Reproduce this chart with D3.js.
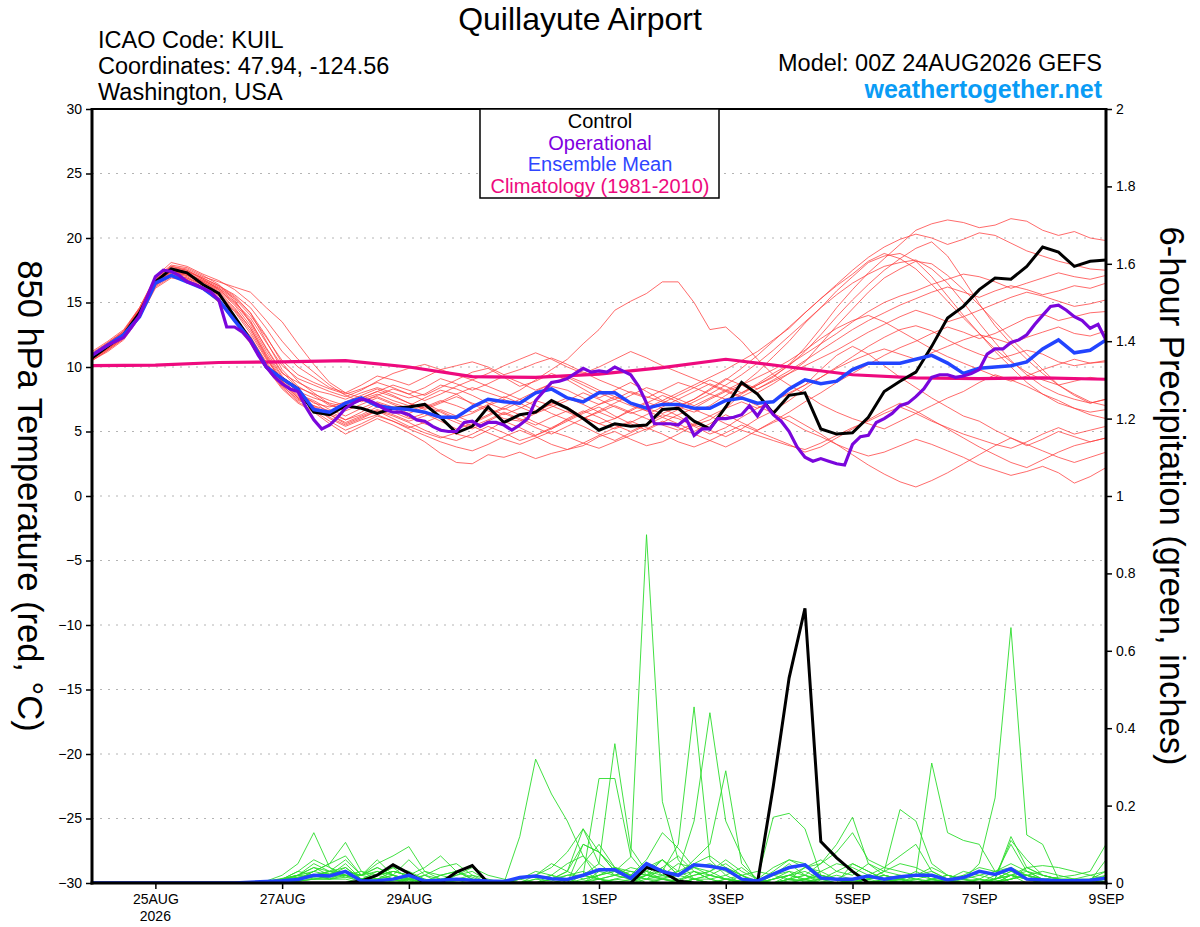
<!DOCTYPE html>
<html>
<head>
<meta charset="utf-8">
<script src="https://cdn.jsdelivr.net/npm/d3@7"></script>
<style>
  body { margin: 0; background: #fff; }
  svg { display: block; font-family: "Liberation Sans", Arial, Helvetica, sans-serif; }
</style>
</head>
<body>
<svg id="chart" width="1200" height="927"></svg>
<script>
// ---- data (6-hourly from 00Z 24AUG2026 unless noted) ----
const xTickDates = ["2026-08-25", "2026-08-27", "2026-08-29", "2026-09-01",
                    "2026-09-03", "2026-09-05", "2026-09-07", "2026-09-09"];
const months = ["JAN","FEB","MAR","APR","MAY","JUN","JUL","AUG","SEP","OCT","NOV","DEC"];

const controlTemp = [10.7,11.6,12.5,14.2,16.6,17.6,17.3,16.4,15.7,13.9,12.1,10.0,9.1,8.3,6.5,6.3,7.0,6.8,6.4,6.8,6.9,7.1,6.1,4.9,
  5.4,6.9,5.7,6.3,6.5,7.4,6.8,6.0,5.1,5.6,5.4,5.5,6.7,6.8,5.8,5.2,6.9,8.8,7.9,6.4,
  7.8,8.0,5.2,4.8,4.9,6.1,8.1,8.9,9.6,11.6,13.8,14.7,16.0,16.9,16.8,17.8,19.3,18.9,17.8,18.2,18.3];

const meanTemp = [10.9,11.7,12.5,13.9,16.5,17.1,16.6,16.1,15.2,13.6,12.1,10.0,9.1,8.3,6.7,6.5,7.2,7.6,7.0,6.8,6.7,6.5,6.1,6.1,
  6.9,7.5,7.3,7.2,8.0,8.3,7.6,7.3,8.0,8.0,7.2,6.8,7.1,7.1,6.8,6.8,7.4,7.6,7.2,7.3,
  8.3,9.0,8.7,8.9,9.8,10.3,10.3,10.3,10.6,10.9,10.3,9.5,9.9,10.0,10.1,10.4,11.4,12.1,11.1,11.3,12.1];

// operational run is 3-hourly
const operTemp = [10.9,11.3,11.7,12.0,12.3,13.1,14.0,15.5,17.0,17.5,
  17.4,17.1,16.6,16.4,16.1,15.8,15.2,13.1,13.1,12.7,
  12.0,10.9,10.0,9.25,8.7,8.3,8.1,6.9,5.9,5.2,
  5.5,6.1,6.8,7.2,7.5,7.4,7.1,6.7,6.5,6.5,
  6.3,5.9,5.8,5.4,5.1,5.0,5.0,5.7,5.8,5.4,
  5.7,5.7,5.5,5.1,5.5,6.0,7.4,8.1,8.8,8.9,
  9.1,9.5,9.9,9.6,9.7,9.6,10.0,9.7,9.4,8.5,
  7.2,5.6,5.6,5.6,5.5,6.0,4.7,5.2,5.2,6.0,
  6.0,6.1,6.3,7.0,6.2,7.1,6.3,5.8,5.0,3.8,
  3.0,2.7,2.9,2.7,2.5,2.4,4.0,4.6,4.7,5.7,
  6.0,6.4,7.0,7.2,7.7,8.3,9.2,9.4,9.4,9.2,
  9.3,9.5,9.8,11.0,11.4,11.4,11.9,12.1,12.5,13.3,
  14.0,14.7,14.8,14.4,13.9,13.6,13.0,13.3,12.1];

// climatology is daily
const climTemp = [10.1,10.15,10.35,10.4,10.5,10.0,9.25,9.2,9.45,9.95,10.6,10.0,9.4,9.15,9.1,9.15,9.05];

const memberTemps = [
  [10.9,11.7,12.6,14.3,16.6,17.6,17.4,16.8,16.2,15.4,14.2,12.0,9.8,8.5,7.8,7.0,6.8,7.5,7.9,7.4,7.0,7.6,8.2,7.9,
   7.1,6.6,6.0,5.8,6.4,7.2,6.9,6.1,5.6,6.0,6.7,7.3,6.8,6.2,5.5,5.9,6.8,7.9,8.6,9.2,
   10.2,11.5,13.0,14.6,16.0,17.3,18.4,19.5,20.6,21.1,21.4,21.2,20.8,21.0,21.5,21.3,20.6,20.2,20.5,20.0,19.8],
  [10.6,11.4,12.3,14.0,16.3,17.2,16.9,16.2,15.3,13.8,12.4,10.3,8.6,7.4,7.0,6.6,5.9,6.5,7.2,6.8,6.1,5.6,5.2,4.8,
   4.5,5.1,5.8,5.3,4.7,5.2,6.0,6.6,6.1,5.5,5.0,5.6,6.3,6.0,5.4,4.8,5.3,6.1,6.8,7.4,
   7.9,8.6,9.8,10.9,11.6,11.0,10.1,9.2,8.4,7.6,6.9,6.2,5.8,5.1,4.5,3.9,4.4,5.0,4.6,4.2,4.5],
  [11.0,11.8,12.8,14.5,16.8,17.8,17.6,17.0,16.6,16.2,15.8,14.6,13.5,11.8,10.2,8.8,8.0,7.6,8.1,8.6,8.2,7.8,8.4,9.0,
   9.6,9.9,9.2,8.5,8.9,9.5,9.0,8.3,7.6,8.2,8.8,8.1,7.4,7.0,7.5,8.3,9.1,8.6,8.0,8.7,
   9.5,10.4,11.8,13.2,14.5,15.8,16.9,17.6,18.2,18.0,17.1,16.0,14.8,13.5,12.2,11.0,9.8,8.6,7.8,7.2,7.5],
  [10.7,11.5,12.4,14.1,16.5,17.4,17.2,16.6,15.9,14.8,13.2,11.0,9.2,8.0,7.2,6.9,7.3,7.8,8.3,7.8,7.2,6.8,7.3,7.9,
   8.4,8.0,7.6,8.2,9.0,9.8,10.6,11.8,12.9,14.4,15.1,15.7,16.6,16.6,15.0,12.9,13.1,12.0,10.6,9.4,
   8.6,7.9,7.1,6.5,6.0,5.6,5.2,5.8,6.4,7.0,7.6,8.1,8.8,9.4,9.0,8.5,7.9,7.4,6.8,6.3,6.0],
  [10.5,11.3,12.2,13.9,16.2,17.0,16.8,16.1,15.0,13.5,11.8,9.9,8.3,7.2,6.5,5.6,4.8,5.4,6.0,5.5,4.9,4.2,3.3,2.6,
   2.5,3.2,3.0,3.4,2.9,3.3,3.6,3.9,4.6,5.0,4.4,3.9,4.2,4.8,5.5,5.1,4.6,5.2,6.0,6.6,
   7.4,8.3,9.2,10.0,10.8,11.6,12.3,12.9,13.2,12.8,12.1,11.5,11.0,10.6,10.9,11.3,11.0,10.4,10.1,10.3,10.5],
  [11.1,11.9,12.7,14.4,16.7,17.5,17.3,16.7,16.1,15.1,13.6,11.4,9.5,8.8,8.2,7.9,7.5,8.0,8.4,8.0,7.6,7.9,8.6,8.3,
   7.8,7.2,6.7,7.3,7.9,8.5,8.2,7.6,7.1,7.5,8.1,7.7,7.3,6.9,6.5,7.0,7.8,8.6,9.6,10.8,
   12.0,13.4,14.6,15.9,17.0,18.1,18.6,18.8,18.2,17.0,15.5,14.0,12.6,11.2,10.0,8.8,7.9,7.2,6.8,6.5,6.7],
  [10.6,11.5,12.4,14.2,16.5,17.3,17.0,16.3,15.5,14.3,12.6,10.6,8.9,7.8,7.3,6.4,5.9,6.3,6.9,6.5,6.0,6.4,5.8,5.2,
   5.6,6.2,6.8,6.3,5.7,5.2,5.8,6.4,6.9,6.2,5.6,5.1,5.7,6.3,6.8,7.5,8.1,7.6,7.0,6.4,
   5.8,5.1,4.6,4.0,3.5,3.1,3.4,3.9,4.4,4.0,3.5,3.0,2.4,2.0,1.6,1.9,2.3,1.8,1.0,1.5,2.2],
  [10.8,11.6,12.5,14.3,16.7,17.7,17.5,16.9,16.3,15.6,14.6,13.0,11.2,10.0,9.2,8.4,8.0,8.6,9.3,9.0,8.6,9.2,9.8,10.1,
   10.4,10.0,9.4,9.8,10.3,10.7,10.2,9.6,9.0,8.5,8.0,7.6,8.2,8.8,8.4,7.9,7.5,8.0,8.7,9.5,
   10.2,11.0,11.8,12.6,13.5,14.3,15.0,15.5,15.9,16.4,16.8,17.2,17.0,16.6,16.1,16.5,16.9,17.3,17.0,16.8,17.1],
  [10.7,11.4,12.3,14.0,16.4,17.1,16.9,16.4,15.7,14.5,13.0,10.8,8.8,7.6,6.8,6.1,5.5,6.0,6.6,6.2,5.7,5.1,4.6,4.3,
   4.8,5.4,4.9,4.3,4.7,5.3,5.9,5.4,4.8,4.3,4.9,5.5,6.1,5.6,5.0,5.6,6.3,5.7,5.1,5.8,
   6.5,7.3,8.0,8.8,9.5,10.2,10.9,11.5,12.0,12.6,13.1,12.7,12.2,12.6,13.2,13.8,14.1,13.6,13.9,14.2,14.3],
  [10.9,11.8,12.7,14.5,16.9,17.9,17.7,17.1,16.4,15.2,13.4,11.2,9.3,8.1,7.6,7.2,6.9,7.4,7.7,7.2,6.8,7.2,6.6,6.0,
   6.4,7.0,7.5,6.9,6.4,6.9,7.4,8.0,7.5,6.9,6.4,6.8,7.4,8.0,8.6,9.2,9.8,10.5,11.2,12.1,
   13.0,14.2,15.3,16.3,17.2,18.2,18.8,18.4,17.6,16.4,15.1,13.8,12.6,11.4,10.4,9.6,9.0,8.6,8.9,9.2,9.0],
  [10.6,11.5,12.4,14.2,16.6,17.5,17.2,16.5,15.6,14.0,12.2,10.1,8.5,7.5,6.9,6.0,5.4,5.9,6.3,5.8,5.3,5.7,6.2,5.7,
   5.2,5.8,6.4,5.9,5.3,4.8,5.4,6.0,6.5,7.0,6.5,6.0,5.5,5.1,5.6,6.2,6.8,7.3,6.8,7.4,
   8.0,8.6,9.2,9.9,10.5,11.0,11.4,11.0,10.6,11.1,11.6,12.1,12.5,12.2,11.8,12.3,12.7,13.1,12.6,12.4,12.8],
  [11.0,11.7,12.6,14.4,16.8,17.6,17.3,16.6,15.8,14.6,13.0,10.9,9.0,7.9,7.4,6.7,6.2,6.8,7.3,6.9,6.4,6.9,7.4,7.0,
   6.5,7.1,7.7,7.2,6.6,7.1,7.6,7.1,6.5,6.0,6.6,7.2,7.8,7.3,6.7,6.2,5.6,5.1,4.7,4.3,
   3.9,3.6,4.1,4.7,5.3,5.8,6.4,6.9,6.4,5.8,5.3,4.8,4.4,4.0,3.7,4.2,4.8,5.3,4.8,5.1,5.4],
  [10.8,11.6,12.5,14.2,16.5,17.4,17.2,16.7,16.1,15.3,14.0,12.3,10.5,9.4,8.8,8.3,7.9,8.3,8.8,8.4,7.9,8.4,9.1,8.7,
   8.2,8.7,9.3,8.8,8.2,8.7,9.2,8.6,8.0,7.5,7.0,6.6,7.2,7.8,8.4,9.0,8.5,8.0,8.6,9.3,
   10.1,11.2,12.5,13.9,15.2,16.4,17.5,18.4,19.2,19.7,18.6,16.8,14.9,13.2,11.8,10.6,9.5,8.6,7.9,7.3,7.0],
  [10.5,11.3,12.2,14.0,16.3,17.1,16.8,16.0,15.1,13.6,11.9,10.0,8.4,7.3,6.6,5.8,5.1,5.6,6.2,5.8,5.2,4.7,4.2,3.8,
   3.5,4.0,4.6,5.1,4.6,4.0,3.6,4.1,4.7,5.3,5.8,5.3,4.8,4.2,3.8,4.3,4.9,5.5,5.0,4.5,
   4.0,3.4,3.8,4.5,5.2,5.9,6.6,7.2,6.6,5.9,5.2,4.5,3.8,3.2,2.6,2.2,2.8,3.4,3.9,4.2,4.5],
  [11.0,11.9,12.8,14.6,16.9,17.8,17.5,16.8,16.0,14.9,13.5,11.5,9.6,8.4,7.9,7.4,7.0,7.6,8.1,7.7,7.2,6.7,7.2,7.7,
   7.2,6.8,6.3,6.8,7.4,7.0,6.5,6.0,6.6,7.2,7.8,8.4,8.0,7.5,7.0,7.6,8.2,8.8,8.3,8.9,
   9.5,10.1,10.7,11.3,12.0,12.7,13.3,13.9,14.4,14.0,13.5,13.9,14.4,14.9,15.4,15.8,15.5,15.1,14.7,14.9,15.2],
  [10.7,11.6,12.5,14.2,16.6,17.4,17.1,16.4,15.6,14.4,12.8,10.7,8.9,7.7,7.0,6.3,5.7,6.2,6.7,6.3,5.8,6.2,6.7,6.2,
   5.7,6.3,6.9,7.5,7.0,6.4,5.9,6.5,7.1,7.7,7.2,6.6,6.1,6.7,7.3,7.9,8.6,9.4,10.3,11.3,
   12.4,13.5,14.6,15.6,16.5,17.2,17.8,18.1,18.3,17.6,16.5,15.0,13.4,11.9,10.5,9.4,8.5,7.9,7.5,7.2,7.5],
  [10.9,11.7,12.6,14.3,16.7,17.6,17.4,16.9,16.3,15.5,14.2,12.4,10.3,8.9,8.0,7.1,6.6,7.1,7.6,7.1,6.6,7.0,6.5,5.9,
   5.4,5.9,6.5,6.0,5.5,6.1,6.6,6.1,5.6,5.2,5.7,6.3,6.9,7.5,8.1,8.7,8.2,7.7,8.3,9.0,
   9.7,10.5,11.3,12.1,12.9,13.6,14.2,14.8,15.3,15.8,16.2,15.8,15.4,15.9,16.3,16.0,15.6,15.9,16.3,16.1,16.5],
  [11.2,12.0,12.9,14.6,17.0,18.1,17.8,17.2,16.7,16.0,15.0,13.6,12.0,10.6,9.6,8.6,7.8,7.3,7.8,8.3,7.9,7.4,7.9,8.5,
   9.0,8.5,8.0,7.5,8.1,8.7,9.3,8.8,8.2,7.7,7.2,6.8,6.4,6.9,7.5,8.2,9.0,9.9,10.9,12.0,
   13.1,14.2,15.3,16.4,17.5,18.5,19.3,19.9,20.3,20.0,19.5,19.9,20.4,20.2,19.6,19.0,18.6,18.2,17.9,17.6,17.5],
  [10.6,11.4,12.3,14.1,16.4,17.3,17.1,16.6,16.0,15.0,13.8,11.9,10.1,9.1,8.6,8.1,7.7,8.2,8.9,9.5,9.9,10.2,9.8,9.4,
   9.0,9.5,10.1,10.6,11.1,10.6,10.0,9.5,10.0,10.6,11.2,10.7,10.1,9.6,9.1,8.6,8.1,8.6,9.2,9.8,
   10.5,11.3,12.2,13.0,13.6,14.0,13.5,12.8,12.1,11.4,10.8,10.3,9.8,9.3,8.9,9.3,9.8,10.2,10.6,10.3,10.4],
  [10.5,11.2,12.1,13.8,16.1,16.9,16.7,16.0,15.2,13.9,12.3,10.4,8.7,7.6,6.9,6.3,5.6,6.1,6.6,6.0,5.4,4.9,4.5,4.9,
   5.4,4.9,4.4,4.0,4.5,5.0,4.6,4.1,3.7,4.2,4.7,5.2,5.8,5.3,4.8,4.3,3.8,4.4,5.1,5.7,
   6.2,5.5,4.8,4.0,3.2,2.4,1.7,1.1,0.7,1.2,1.8,2.5,3.2,3.9,4.5,4.0,3.5,3.0,2.6,3.0,3.4]
];

const controlPrecip = [0,0,0,0,0,0,0,0,0,0,0,0,0,
  0,0,0,0,0.005,0.02,0.047,0.025,0,0,0.028,0.045,0,
  0,0,0,0,0,0,0,0,0,0.04,0.03,0.005,0,
  0,0,0,0,0.25,0.53,0.71,0.107,0.065,0.03,0,0,0,
  0,0,0,0,0,0,0,0,0,0,0,0,0];

const meanPrecip = [0,0,0,0,0,0,0,0,0,0,0.002,0.004,0.006,
  0.009,0.02,0.018,0.03,0.005,0.006,0.01,0.02,0.005,0.007,0.01,0.007,0.005,
  0.004,0.014,0.018,0.011,0.009,0.02,0.034,0.034,0.012,0.05,0.03,0.02,0.047,
  0.043,0.036,0.01,0.005,0.023,0.04,0.047,0.013,0.01,0.01,0.018,0.01,0.016,
  0.02,0.02,0.008,0.014,0.03,0.022,0.037,0.01,0.008,0.006,0.006,0.007,0.012];

const memberPrecips = [
  [0,0,0,0,0,0,0,0,0,0,0,0.005,0.02,
   0.05,0.13,0.04,0.02,0,0.01,0.03,0.02,0.005,0,0,0,0,
   0,0.12,0.32,0.23,0.16,0.07,0.01,0,0,0.02,0.04,0,0.01,
   0,0,0,0,0.01,0.03,0,0,0,0,0,0.01,0,
   0.02,0.31,0.13,0.11,0.1,0.03,0,0,0,0,0,0,0],
  [0,0,0,0,0,0,0,0,0,0,0,0.003,0.01,
   0.02,0.03,0.05,0.105,0.03,0.01,0.02,0,0,0,0.005,0.01,0,
   0,0,0.01,0.02,0,0,0.02,0.03,0.067,0.9,0.21,0.06,0.01,
   0,0,0,0,0,0.01,0.02,0,0,0,0,0,0,
   0,0,0,0,0,0.01,0.02,0,0,0,0,0,0],
  [0,0,0,0,0,0,0,0,0,0,0,0,0.005,
   0.01,0.02,0.03,0.04,0.01,0,0.005,0.01,0,0,0,0,0,
   0,0,0,0.01,0.02,0.03,0.01,0,0,0,0.01,0.02,0.03,
   0.01,0,0,0,0,0,0,0,0,0.01,0.02,0.04,0.03,
   0.02,0.04,0.02,0.01,0.05,0.22,0.66,0.124,0.1,0.01,0.01,0.005,0.01],
  [0,0,0,0,0,0,0,0,0,0,0,0.002,0.01,
   0.02,0.04,0.03,0.03,0.02,0.05,0.07,0.094,0.03,0.01,0.02,0.03,0.005,
   0,0,0.01,0.005,0.02,0.02,0.27,0.27,0.07,0.02,0.01,0.005,0.03,
   0.02,0.01,0,0,0.01,0.02,0.03,0.01,0,0,0,0.005,0.01,
   0.03,0.01,0,0,0,0,0.01,0.02,0,0,0,0,0],
  [0,0,0,0,0,0,0,0,0,0,0,0,0.01,
   0.02,0.05,0.03,0.06,0.02,0.03,0.01,0,0,0,0,0,0,
   0,0.01,0,0,0.01,0.02,0.05,0.36,0.09,0.03,0.06,0.02,0.01,
   0,0.01,0.02,0,0,0,0,0.01,0.03,0.05,0.03,0.01,0,
   0,0.01,0.02,0.01,0,0,0,0,0,0,0,0,0],
  [0,0,0,0,0,0,0,0,0,0,0,0.002,0.005,
   0.01,0.02,0.02,0.04,0.01,0.02,0.04,0.03,0.01,0,0,0.01,0,
   0,0,0,0.01,0.03,0.14,0.05,0.02,0.01,0.02,0.03,0.1,0.455,
   0.06,0.02,0,0,0.02,0.05,0.02,0.01,0,0.005,0.01,0.03,0.02,
   0.01,0,0,0.01,0.02,0.03,0.04,0.02,0.01,0.005,0,0.01,0.03],
  [0,0,0,0,0,0,0,0,0,0,0,0,0.005,
   0.01,0.03,0.05,0.07,0.02,0.06,0.02,0.01,0,0,0,0,0,
   0,0,0,0,0,0.1,0.08,0.03,0.01,0.05,0.02,0.03,0.16,
   0.44,0.16,0.07,0,0.01,0.02,0.01,0,0,0.05,0.03,0.01,0.005,
   0,0,0,0.02,0.04,0.03,0.02,0.01,0,0,0,0,0],
  [0,0,0,0,0,0,0,0,0,0,0,0.003,0.008,
   0.015,0.02,0.01,0.03,0.02,0.04,0.02,0.06,0.02,0,0,0,0,
   0,0,0.02,0.05,0.03,0.01,0.02,0.04,0.03,0.02,0.06,0.02,0.06,
   0.1,0.29,0.05,0.01,0.17,0.18,0.14,0.02,0.01,0.03,0.01,0,0.01,
   0.02,0.01,0,0,0,0.01,0.12,0.04,0.02,0.01,0,0,0],
  [0,0,0,0,0,0,0,0,0,0,0,0,0.003,
   0.005,0.01,0.02,0.02,0.01,0.01,0.01,0.02,0.005,0,0,0,0,
   0,0,0,0,0,0,0,0.01,0.02,0.01,0,0,0.01,
   0.02,0.01,0,0,0,0.02,0.04,0.06,0.03,0.02,0.05,0.03,0.19,
   0.16,0.05,0.02,0.01,0,0.01,0.03,0.02,0.01,0.015,0.02,0.03,0.1],
  [0,0,0,0,0,0,0,0,0,0,0,0,0.005,
   0.02,0.04,0.02,0.03,0.01,0,0,0.01,0,0,0,0,0,
   0,0,0,0,0,0.05,0.1,0.04,0.02,0,0,0,0.01,
   0.01,0,0,0.01,0.04,0.06,0.04,0.05,0.1,0.17,0.05,0.02,0.01,
   0,0.005,0.01,0.03,0.02,0.01,0.02,0.01,0,0,0,0,0],
  [0,0,0,0,0,0,0,0,0,0,0,0.003,0.01,
   0.03,0.02,0.01,0.01,0,0.02,0.04,0.01,0,0,0.01,0.02,0.01,
   0,0,0,0,0,0,0.03,0.04,0.02,0.01,0.01,0,0,
   0,0,0.02,0.03,0.02,0.01,0.02,0.05,0.08,0.13,0.06,0.04,0.07,
   0.1,0.03,0.01,0,0,0.01,0.11,0.06,0.02,0.01,0.01,0.01,0.02],
  [0,0,0,0,0,0,0,0,0,0,0,0,0,
   0.005,0.01,0.015,0.02,0.01,0.005,0.01,0.015,0,0,0,0,0,
   0,0.01,0.02,0.04,0.08,0.14,0.08,0.03,0.02,0.06,0.13,0.09,0.04,
   0.02,0.01,0,0,0,0.01,0.005,0,0,0,0.01,0.02,0.01,
   0,0,0,0.005,0.01,0.005,0.01,0.04,0.045,0.04,0.03,0.02,0.01],
  [0,0,0,0,0,0,0,0,0,0,0,0.004,0.012,
   0.02,0.02,0.025,0.02,0.01,0.02,0.03,0.02,0.01,0,0.02,0.04,0.02,
   0.01,0,0,0.01,0.03,0.1,0.08,0.04,0.02,0.01,0.02,0.05,0.04,
   0.03,0.06,0.03,0.01,0,0,0.01,0.03,0.05,0.04,0.02,0.01,0,
   0,0,0.01,0.02,0.01,0,0.01,0.02,0.01,0.005,0,0,0.02],
  [0,0,0,0,0,0,0,0,0,0,0,0,0.004,
   0.01,0.015,0.02,0.03,0.02,0.01,0.02,0.01,0.03,0.02,0.01,0.005,0,
   0,0,0,0,0.01,0.02,0.01,0,0.01,0.03,0.02,0.01,0.02,
   0.03,0.01,0.005,0,0.02,0.03,0.02,0.005,0,0,0.01,0.02,0.01,
   0.005,0,0,0,0.01,0.03,0.05,0.03,0.02,0.01,0.005,0,0],
  [0,0,0,0,0,0,0,0,0,0,0,0.002,0.006,
   0.01,0.03,0.02,0.05,0.01,0.02,0.03,0.02,0.005,0.02,0.03,0.01,0,
   0,0,0,0,0,0.01,0.02,0.03,0.01,0,0.01,0.03,0.05,
   0.07,0.04,0.02,0.005,0.03,0.06,0.05,0.02,0.01,0,0.01,0.03,0.05,
   0.04,0.02,0.01,0,0,0.02,0.1,0.03,0.01,0,0,0,0],
  [0,0,0,0,0,0,0,0,0,0,0,0,0.008,
   0.02,0.01,0.01,0.02,0.03,0.02,0.01,0.005,0.02,0.04,0.05,0.02,0,
   0,0,0,0,0,0.02,0.01,0.005,0,0.01,0.04,0.07,0.03,
   0.01,0.02,0.04,0.01,0,0.01,0.04,0.03,0.01,0,0.01,0.02,0.01,
   0,0.01,0.02,0.01,0.005,0.01,0.02,0.01,0,0,0.01,0.02,0.03],
  [0,0,0,0,0,0,0,0,0,0,0,0.003,0.01,
   0.015,0.02,0.03,0.02,0.01,0.01,0.005,0.01,0.02,0.01,0,0,0,
   0,0,0,0.02,0.05,0.07,0.03,0.02,0.01,0.04,0.06,0.03,0.01,
   0,0.01,0.005,0,0.01,0.02,0.01,0,0,0.01,0.005,0,0,
   0,0.01,0.005,0,0,0.01,0.03,0.02,0.01,0.005,0,0,0.005],
  [0,0,0,0,0,0,0,0,0,0,0,0,0.002,
   0.005,0.01,0.01,0.015,0.005,0,0.01,0.02,0.04,0.07,0.03,0.01,0,
   0,0,0,0,0,0,0.01,0.02,0.03,0.02,0.01,0,0.01,
   0.02,0.04,0.02,0,0,0.01,0.005,0.01,0.02,0.01,0.005,0,0.005,
   0.01,0.02,0.01,0,0,0,0.02,0.04,0.02,0.01,0.005,0,0],
  [0,0,0,0,0,0,0,0,0,0,0,0.004,0.01,
   0.03,0.06,0.04,0.02,0.01,0.03,0.02,0.01,0,0,0,0,0,
   0,0.01,0.03,0.02,0.01,0,0,0.01,0.005,0.02,0.015,0.02,0.04,
   0.05,0.03,0.01,0,0,0.005,0.01,0.02,0.01,0.005,0,0.01,0.02,
   0.01,0.005,0,0,0,0,0.02,0.03,0.01,0,0,0,0.01],
  [0,0,0,0,0,0,0,0,0,0,0,0,0.006,
   0.012,0.02,0.03,0.015,0.02,0.04,0.02,0.005,0,0.02,0.03,0.015,0,
   0,0,0,0,0,0.005,0.01,0.02,0.04,0.03,0.01,0.005,0.02,
   0.03,0.05,0.02,0,0,0,0.01,0.02,0.01,0,0,0.005,0.01,
   0.02,0.03,0.01,0,0,0.005,0.01,0.02,0.03,0.02,0.01,0.005,0.06]
];

// ---- layout ----
const svg = d3.select("#chart");
const plot = { left: 92, right: 1106, top: 109, bottom: 883 };

const start = Date.UTC(2026, 7, 24, 0);
const hour = 3600 * 1000;
const at = (i, hrs) => new Date(start + i * hrs * hour);

const x = d3.scaleUtc()
  .domain([at(0, 6), at(64, 6)])
  .range([plot.left, plot.right]);
const yT = d3.scaleLinear().domain([-30, 30]).range([plot.bottom, plot.top]);
const yP = d3.scaleLinear().domain([0, 2]).range([plot.bottom, plot.top]);

svg.append("defs").append("clipPath").attr("id", "clip")
  .append("rect")
  .attr("x", plot.left).attr("y", plot.top - 2)
  .attr("width", plot.right - plot.left).attr("height", plot.bottom - plot.top + 2);

// dotted grid on the temperature ticks
svg.append("g")
  .selectAll("line")
  .data(d3.range(-25, 30, 5))
  .join("line")
  .attr("x1", plot.left).attr("x2", plot.right)
  .attr("y1", d => yT(d)).attr("y2", d => yT(d))
  .attr("stroke", "#b4b4b4")
  .attr("stroke-width", 1)
  .attr("stroke-dasharray", "2,6");

const lineOf = (hrs, yScale) => d3.line()
  .x((d, i) => x(at(i, hrs)))
  .y(d => yScale(d));

const g = svg.append("g").attr("clip-path", "url(#clip)");

// ensemble members
g.append("g").selectAll("path")
  .data(memberTemps)
  .join("path")
  .attr("d", lineOf(6, yT))
  .attr("fill", "none")
  .attr("stroke", "#ff3c3c")
  .attr("stroke-opacity", 0.85)
  .attr("stroke-width", 0.9);

g.append("g").selectAll("path")
  .data(memberPrecips)
  .join("path")
  .attr("d", lineOf(6, yP))
  .attr("fill", "none")
  .attr("stroke", "#2ddc2d")
  .attr("stroke-width", 0.9);

// climatology
g.append("path")
  .datum(climTemp)
  .attr("d", lineOf(24, yT))
  .attr("fill", "none")
  .attr("stroke", "#ee0a7e")
  .attr("stroke-width", 3.2);

// control / mean precipitation
g.append("path")
  .datum(controlPrecip)
  .attr("d", lineOf(6, yP))
  .attr("fill", "none")
  .attr("stroke", "#000")
  .attr("stroke-width", 3);

g.append("path")
  .datum(meanPrecip)
  .attr("d", lineOf(6, yP))
  .attr("fill", "none")
  .attr("stroke", "#2244ff")
  .attr("stroke-width", 3.5);

// control / mean / operational temperature
g.append("path")
  .datum(controlTemp)
  .attr("d", lineOf(6, yT))
  .attr("fill", "none")
  .attr("stroke", "#000")
  .attr("stroke-width", 3);

g.append("path")
  .datum(meanTemp)
  .attr("d", lineOf(6, yT))
  .attr("fill", "none")
  .attr("stroke", "#2244ff")
  .attr("stroke-width", 3.5);

g.append("path")
  .datum(operTemp)
  .attr("d", lineOf(3, yT))
  .attr("fill", "none")
  .attr("stroke", "#7a06dc")
  .attr("stroke-width", 3.2);

// ---- axes ----
const tickFont = g => g.selectAll("text")
  .attr("font-size", 14)
  .attr("font-family", "'Liberation Sans', Arial, sans-serif")
  .attr("fill", "#000");

svg.append("g")
  .attr("transform", `translate(${plot.left},0)`)
  .call(d3.axisLeft(yT).tickValues(d3.range(-30, 31, 5)).tickSize(6).tickPadding(4))
  .call(a => a.select(".domain").remove())
  .call(a => a.selectAll("line").attr("stroke-width", 1.5))
  .call(tickFont);

svg.append("g")
  .attr("transform", `translate(${plot.right},0)`)
  .call(d3.axisRight(yP)
    .tickValues(d3.range(0, 11).map(k => k / 5))
    .tickFormat(d => String(+d.toFixed(1)))
    .tickSize(6).tickPadding(4))
  .call(a => a.select(".domain").remove())
  .call(a => a.selectAll("line").attr("stroke-width", 1.5))
  .call(tickFont);

const tickDates = xTickDates.map(s => new Date(s + "T00:00:00Z"));
svg.append("g")
  .attr("transform", `translate(0,${plot.bottom})`)
  .call(d3.axisBottom(x)
    .tickValues(tickDates)
    .tickFormat(d => d.getUTCDate() + months[d.getUTCMonth()])
    .tickSize(6).tickPadding(5))
  .call(a => a.select(".domain").remove())
  .call(a => a.selectAll("line").attr("stroke-width", 1.5))
  .call(tickFont);

svg.append("text")
  .attr("x", x(tickDates[0])).attr("y", 921)
  .attr("text-anchor", "middle")
  .attr("font-size", 14)
  .text("2026");

// frame
const frame = svg.append("g").attr("stroke", "#000").attr("fill", "none");
frame.append("line").attr("x1", plot.left).attr("x2", plot.right)
  .attr("y1", plot.top).attr("y2", plot.top).attr("stroke-width", 2);
frame.append("line").attr("x1", plot.left - 1.5).attr("x2", plot.right + 1.5)
  .attr("y1", plot.bottom).attr("y2", plot.bottom).attr("stroke-width", 3);
frame.append("line").attr("x1", plot.left).attr("x2", plot.left)
  .attr("y1", plot.top - 1).attr("y2", plot.bottom + 1.5).attr("stroke-width", 3);
frame.append("line").attr("x1", plot.right).attr("x2", plot.right)
  .attr("y1", plot.top - 1).attr("y2", plot.bottom + 1.5).attr("stroke-width", 3);

// ---- legend ----
const legend = svg.append("g");
legend.append("rect")
  .attr("x", 480).attr("y", plot.top)
  .attr("width", 239).attr("height", 89)
  .attr("fill", "#fff").attr("stroke", "#000").attr("stroke-width", 1.5);
const legendItems = [
  ["Control", "#000"],
  ["Operational", "#8000e0"],
  ["Ensemble Mean", "#2f45ff"],
  ["Climatology (1981-2010)", "#ee0a7e"]
];
legend.selectAll("text")
  .data(legendItems)
  .join("text")
  .attr("x", 600)
  .attr("y", (d, i) => 128 + i * 21.7)
  .attr("text-anchor", "middle")
  .attr("font-size", 20)
  .attr("fill", d => d[1])
  .text(d => d[0]);

// ---- titles ----
svg.append("text")
  .attr("x", 580).attr("y", 30)
  .attr("text-anchor", "middle")
  .attr("font-size", 32)
  .text("Quillayute Airport");

const info = ["ICAO Code: KUIL", "Coordinates: 47.94, -124.56", "Washington, USA"];
svg.append("g").selectAll("text")
  .data(info)
  .join("text")
  .attr("x", 98)
  .attr("y", (d, i) => 48 + i * 26)
  .attr("font-size", 23.5)
  .text(d => d);

svg.append("text")
  .attr("x", 1102).attr("y", 71)
  .attr("text-anchor", "end")
  .attr("font-size", 23.5)
  .text("Model: 00Z 24AUG2026 GEFS");

svg.append("text")
  .attr("x", 1102).attr("y", 98)
  .attr("text-anchor", "end")
  .attr("font-size", 25)
  .attr("font-weight", "bold")
  .attr("fill", "#0a9cf5")
  .text("weathertogether.net");

svg.append("text")
  .attr("transform", `translate(18,${yT(0)}) rotate(90)`)
  .attr("text-anchor", "middle")
  .attr("font-size", 34.5)
  .text("850 hPa Temperature (red, \u00B0C)");

svg.append("text")
  .attr("transform", `translate(1160,${yT(0)}) rotate(90)`)
  .attr("text-anchor", "middle")
  .attr("font-size", 34.5)
  .text("6-hour Precipitation (green, inches)");
</script>
</body>
</html>
